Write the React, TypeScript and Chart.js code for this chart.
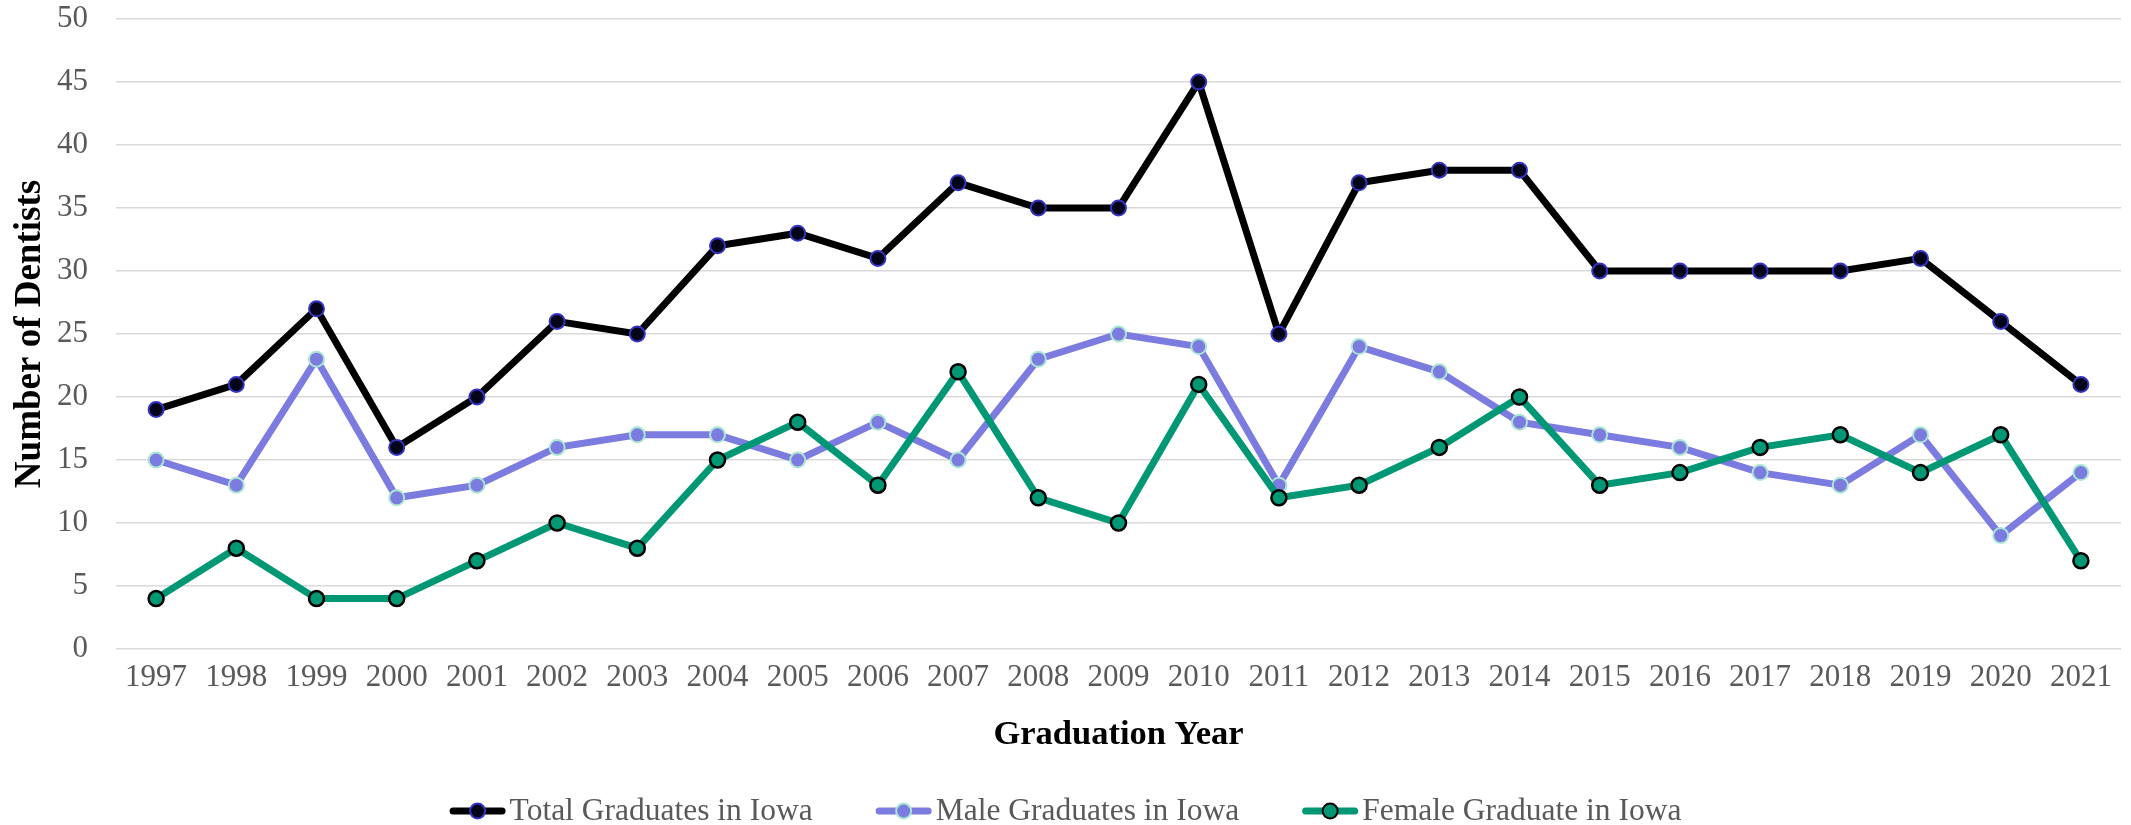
import { useEffect, useRef } from "react";
import { Chart, registerables } from "chart.js";

Chart.register(...registerables);

const years = [
  "1997", "1998", "1999", "2000", "2001", "2002", "2003", "2004", "2005",
  "2006", "2007", "2008", "2009", "2010", "2011", "2012", "2013", "2014",
  "2015", "2016", "2017", "2018", "2019", "2020", "2021",
];
const totalGraduates = [19, 21, 27, 16, 20, 26, 25, 32, 33, 31, 37, 35, 35, 45, 25, 37, 38, 38, 30, 30, 30, 30, 31, 26, 21];
const maleGraduates = [15, 13, 23, 12, 13, 16, 17, 17, 15, 18, 15, 23, 25, 24, 13, 24, 22, 18, 17, 16, 14, 13, 17, 9, 14];
const femaleGraduates = [4, 8, 4, 4, 7, 10, 8, 15, 18, 13, 22, 12, 10, 21, 12, 13, 16, 20, 13, 14, 16, 17, 14, 17, 7];
const seriesLabels = ["Total Graduates in Iowa", "Male Graduates in Iowa", "Female Graduate in Iowa"];
const yMin = 0;
const yMax = 50;
const yStep = 5;
const xTitle = "Graduation Year";
const yTitle = "Number of Dentists";

const FONT = "'Liberation Serif', 'Times New Roman', Times, serif";

const lineLegend = {
  id: "lineLegend",
  afterDraw(chart: any) {
    const ctx = chart.ctx as CanvasRenderingContext2D;
    const fontSize = 31.5;
    ctx.save();
    ctx.font = `${fontSize}px ${FONT}`;
    const items = chart.data.datasets.map((ds: any) => ({
      label: ds.label,
      line: ds.borderColor,
      fill: ds.pointBackgroundColor,
      border: ds.pointBorderColor,
    }));
    const markerW = 56;
    const gap = 4;
    const itemGap = 63;
    const widths = items.map((it: any) => markerW + gap + ctx.measureText(it.label).width);
    const total = widths.reduce((a: number, b: number) => a + b, 0) + itemGap * (items.length - 1);
    let x = chart.width / 2 - total / 2;
    const y = chart.height - 14;
    items.forEach((it: any, i: number) => {
      ctx.strokeStyle = it.line;
      ctx.lineWidth = 7;
      ctx.lineCap = "round";
      ctx.beginPath();
      ctx.moveTo(x + 3.5, y);
      ctx.lineTo(x + markerW - 3.5, y);
      ctx.stroke();
      ctx.beginPath();
      ctx.arc(x + markerW / 2, y, 7.5, 0, Math.PI * 2);
      ctx.fillStyle = it.fill;
      ctx.fill();
      ctx.lineWidth = 2;
      ctx.strokeStyle = it.border;
      ctx.stroke();
      ctx.fillStyle = "#595959";
      ctx.textBaseline = "middle";
      ctx.textAlign = "left";
      ctx.fillText(it.label, x + markerW + gap, y + 1);
      x += widths[i] + itemGap;
    });
    ctx.restore();
  },
};

export default function App() {
  const canvasRef = useRef<HTMLCanvasElement | null>(null);

  useEffect(() => {
    const canvas = canvasRef.current;
    if (!canvas) return;
    const chart = new Chart(canvas, {
      type: "line",
      data: {
        labels: years,
        datasets: [
          {
            label: seriesLabels[0],
            data: totalGraduates,
            borderColor: "#000000",
            backgroundColor: "#000000",
            borderWidth: 7,
            pointRadius: 7.5,
            pointBorderWidth: 2,
            pointBackgroundColor: "#05051a",
            pointBorderColor: "#3434c4",
            tension: 0,
            order: 2,
          },
          {
            label: seriesLabels[1],
            data: maleGraduates,
            borderColor: "#7b7be0",
            backgroundColor: "#7b7be0",
            borderWidth: 7,
            pointRadius: 7.5,
            pointBorderWidth: 2,
            pointBackgroundColor: "#7b7be0",
            pointBorderColor: "#a8e6d2",
            tension: 0,
            order: 1,
          },
          {
            label: seriesLabels[2],
            data: femaleGraduates,
            borderColor: "#009874",
            backgroundColor: "#009874",
            borderWidth: 7,
            pointRadius: 7.5,
            pointBorderWidth: 2.5,
            pointBackgroundColor: "#009874",
            pointBorderColor: "#000000",
            tension: 0,
            order: 0,
          },
        ],
      },
      options: {
        responsive: false,
        animation: false,
        layout: { padding: { top: 19, right: 9, bottom: 65, left: 0 } },
        plugins: {
          legend: { display: false },
          tooltip: { enabled: false },
        },
        scales: {
          x: {
            offset: true,
            grid: { display: false, drawTicks: false },
            border: { display: false },
            ticks: {
              color: "#595959",
              font: { family: FONT, size: 31 },
              padding: 10,
              maxRotation: 0,
              autoSkip: false,
            },
            title: {
              display: true,
              text: xTitle,
              color: "#000000",
              font: { family: FONT, size: 34.5, weight: "bold" },
              padding: 4,
            },
            afterFit(scale: any) {
              scale.height = 111;
            },
          },
          y: {
            min: yMin,
            max: yMax,
            grid: { color: "#d9d9d9", lineWidth: 1.5, drawTicks: false },
            border: { display: false },
            ticks: {
              stepSize: yStep,
              color: "#595959",
              font: { family: FONT, size: 31 },
              padding: 28,
            },
            title: {
              display: true,
              text: yTitle,
              color: "#000000",
              font: { family: FONT, size: 37, weight: "bold" },
              padding: 8,
            },
            afterFit(scale: any) {
              scale.width = 116;
              scale.paddingTop = 0;
              scale.paddingBottom = 0;
            },
          },
        },
      },
      plugins: [lineLegend],
    });
    return () => chart.destroy();
  }, []);

  return (
    <div style={{ position: "fixed", left: 0, top: 0, width: 2131, height: 825, background: "#ffffff" }}>
      <canvas ref={canvasRef} width={2131} height={825} style={{ display: "block" }} />
    </div>
  );
}
